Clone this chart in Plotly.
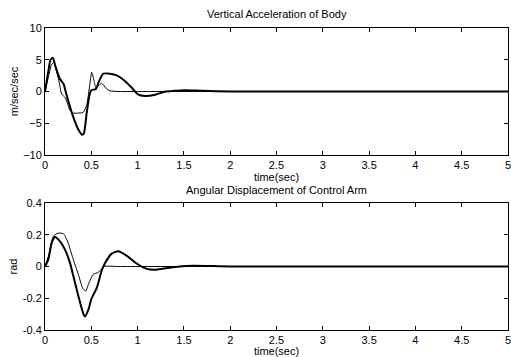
import plotly.graph_objects as go
from plotly.subplots import make_subplots

# Top: Vertical Acceleration of Body (m/sec/sec)
t_acc_thick = [0, 0.036, 0.06, 0.085, 0.11, 0.16, 0.2, 0.23, 0.3, 0.36, 0.40, 0.42, 0.45, 0.48, 0.5, 0.55, 0.58, 0.63, 0.7, 0.78,
               0.86, 0.93, 1.0, 1.08, 1.19, 1.3, 1.4, 1.5, 1.7, 2.0, 2.5, 3.0, 4.0, 5.0]
acc_thick = [0, 3.2, 5.0, 5.3, 4.1, 2.0, 1.2, -0.4, -3.8, -6.0, -6.8, -6.6, -3.4, -0.6, 0.2, 0.4, 1.5, 2.8, 2.8, 2.5,
             1.7, 0.7, -0.4, -0.7, -0.5, 0.0, 0.1, 0.2, 0.1, 0.0, 0.0, 0.0, 0.0, 0.0]

t_acc_thin = [0, 0.04, 0.07, 0.097, 0.12, 0.15, 0.18, 0.22, 0.27, 0.3, 0.35, 0.41, 0.45, 0.48, 0.505, 0.53, 0.55, 0.58,
              0.61, 0.66, 0.7, 0.8, 1.0, 1.5, 2.0, 3.0, 4.0, 5.0]
acc_thin = [0, 2.5, 4.2, 4.6, 3.4, 1.7, -0.4, -1.0, -3.0, -3.4, -3.4, -3.3, -2.2, 0.7, 3.0, 1.7, 0.6, 0.9,
            1.3, 0.5, 0.1, 0.0, 0.0, 0.0, 0.0, 0.0, 0.0, 0.0]

# Bottom: Angular Displacement of Control Arm (rad)
t_ang_thick = [0, 0.036, 0.072, 0.108, 0.162, 0.216, 0.27, 0.306, 0.36, 0.41, 0.43, 0.47, 0.5, 0.56, 0.61, 0.65, 0.72,
               0.79, 0.88, 0.99, 1.1, 1.2, 1.32, 1.45, 1.6, 2.0, 3.0, 4.0, 5.0]
ang_thick = [0, 0.044, 0.148, 0.186, 0.158, 0.106, 0.023, -0.06, -0.186, -0.29, -0.315, -0.27, -0.206, -0.133, -0.03,
             0.023, 0.081, 0.096, 0.069, 0.019, -0.015, -0.02, -0.01, 0.0, 0.005, 0.0, 0.0, 0.0, 0.0]

t_ang_thin = [0, 0.036, 0.09, 0.14, 0.2, 0.25, 0.3, 0.36, 0.41, 0.44, 0.47, 0.52, 0.57, 0.61, 0.63, 0.8, 1.0, 2.0, 3.0,
              4.0, 5.0]
ang_thin = [0, 0.063, 0.19, 0.21, 0.206, 0.148, 0.054, -0.05, -0.14, -0.154, -0.11, -0.05, -0.038, -0.017, 0.0, 0.0,
            0.0, 0.0, 0.0, 0.0, 0.0]

x_ticks = [0, 0.5, 1, 1.5, 2, 2.5, 3, 3.5, 4, 4.5, 5]
x_tick_labels = ["0", "0.5", "1", "1.5", "2", "2.5", "3", "3.5", "4", "4.5", "5"]
acc_ticks = [-10, -5, 0, 5, 10]
ang_ticks = [-0.4, -0.2, 0, 0.2, 0.4]
ang_tick_labels = ["-0.4", "-0.2", "0", "0.2", "0.4"]

FONT = "Liberation Sans, Arial, sans-serif"
FS = 11

fig = make_subplots(rows=2, cols=1)

fig.add_trace(go.Scatter(x=t_acc_thin, y=acc_thin, mode="lines",
                         line=dict(color="black", width=1, shape="spline", smoothing=0.6)), row=1, col=1)
fig.add_trace(go.Scatter(x=t_acc_thick, y=acc_thick, mode="lines",
                         line=dict(color="black", width=2, shape="spline", smoothing=0.6)), row=1, col=1)
fig.add_trace(go.Scatter(x=t_ang_thin, y=ang_thin, mode="lines",
                         line=dict(color="black", width=1, shape="spline", smoothing=0.6)), row=2, col=1)
fig.add_trace(go.Scatter(x=t_ang_thick, y=ang_thick, mode="lines",
                         line=dict(color="black", width=2, shape="spline", smoothing=0.6)), row=2, col=1)

axis_common = dict(showgrid=False, zeroline=False, showline=True, linecolor="black", linewidth=1,
                   mirror="ticks", ticks="inside", ticklen=4, tickcolor="black",
                   ticklabeloverflow="allow",
                   tickfont=dict(family=FONT, size=FS, color="black"))

for r in (1, 2):
    fig.update_xaxes(range=[0, 5], tickvals=x_ticks, ticktext=x_tick_labels, row=r, col=1,
                     title=dict(text="time(sec)", font=dict(family=FONT, size=FS, color="black"), standoff=0),
                     **axis_common)

fig.update_yaxes(range=[-10, 10], tickvals=acc_ticks, row=1, col=1,
                 title=dict(text="m/sec/sec", font=dict(family=FONT, size=FS, color="black"), standoff=2),
                 **axis_common)
fig.update_yaxes(range=[-0.4, 0.4], tickvals=ang_ticks, ticktext=ang_tick_labels, row=2, col=1,
                 title=dict(text="rad", font=dict(family=FONT, size=FS, color="black"), standoff=2),
                 **axis_common)

fig.update_layout(
    width=511, height=357,
    margin=dict(l=45, r=3, t=28, b=27, autoexpand=False),
    paper_bgcolor="white", plot_bgcolor="white",
    showlegend=False,
    xaxis=dict(domain=[0, 1]),
    yaxis=dict(domain=[0.5795, 1.0]),
    yaxis2=dict(domain=[0.0, 0.4205]),
    annotations=[
        dict(text="Vertical Acceleration of Body", x=0.5, y=1.0, xref="paper", yref="paper",
             xanchor="center", yanchor="bottom", yshift=6, showarrow=False,
             font=dict(family=FONT, size=FS, color="black")),
        dict(text="Angular Displacement of Control Arm", x=0.5, y=0.4205, xref="paper", yref="paper",
             xanchor="center", yanchor="bottom", yshift=5, showarrow=False,
             font=dict(family=FONT, size=FS, color="black")),
    ],
)

fig.write_html("out.html")
